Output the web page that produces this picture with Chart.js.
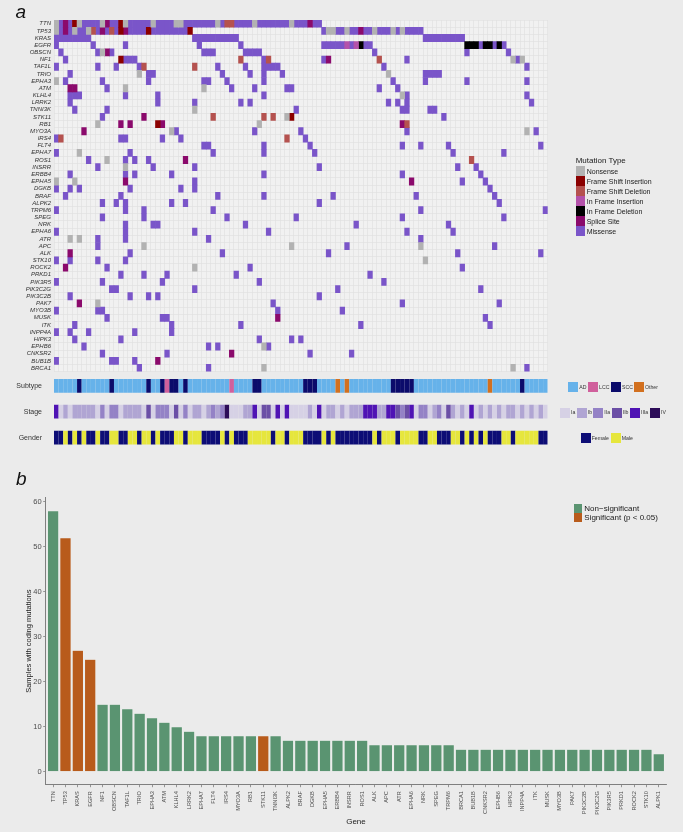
<!DOCTYPE html>
<html>
<head>
<meta charset="utf-8">
<script src="https://cdn.jsdelivr.net/npm/chart.js@4.4.1/dist/chart.umd.min.js"></script>
<style>
html,body{margin:0;padding:0;background:#ebebeb;}
body{width:683px;height:832px;position:relative;overflow:hidden;font-family:"Liberation Sans",Arial,Helvetica,sans-serif;}
canvas{position:absolute;left:0;}
.t{position:absolute;white-space:nowrap;color:#1a1a1a;}
.sq{position:absolute;}
</style>
</head>
<body>
<canvas id="onco" width="683" height="380" style="top:0px;width:683px;height:380px"></canvas>
<canvas id="tracks" width="683" height="100" style="top:360px;width:683px;height:100px"></canvas>
<canvas id="bars" width="683" height="372" style="top:460px;width:683px;height:372px"></canvas>
<div id="overlay"></div>
<script>
// ---------------- DATA ----------------
const genes = ['TTN','TP53','KRAS','EGFR','OBSCN','NF1','TAF1L','TRIO','EPHA3','ATM','KLHL4','LRRK2','TNNI3K','STK11','RB1','MYO3A','IRS4','FLT4','EPHA7','ROS1','INSRR','ERBB4','EPHA5','DGKB','BRAF','ALPK2','TRPM6','SPEG','NRK','EPHA6','ATR','APC','ALK','STK10','ROCK2','PRKD1','PIK3R5','PIK3C2G','PIK3C2B','PAK7','MYO3B','MUSK','ITK','INPP4A','HIPK3','EPHB6','CNKSR2','BUB1B','BRCA1'];
const sampleCount = 107;
// per gene: "col[-col]Type" ; N nonsense, I FS ins, D FS del, i IF ins, d IF del, S splice, M missense
const mutationRows = [
 "0N 1M 2S 3M 4I 5N 6-9M 10N 11S 12-13M 14I 15N 16-20M 21N 22-25M 26-27N 28-34M 35N 36M 37-38D 39-42M 43N 44-50M 51N 52-54M 55S 56-57M",
 "0N 1M 2S 3M 4N 5-6M 7N 8D 9M 10S 11M 12D 13M 14I 15S 16-19M 20I 21-28M 29I 58M 59-60N 61-62M 63N 64-65M 66S 67-68M 69N 70-72M 73N 74M 75N 76-79M",
 "0-7M 30-39M 80-88M",
 "0M 8M 15M 31M 40M 58-62M 63i 64M 65i 66d 67-68M 89-91d 92M 93-94d 95M 96d 97M",
 "1M 9M 10N 11S 12M 32-34M 41-44M 69M 89M 98M",
 "2M 14I 15-17M 40D 45M 46D 58M 59S 70D 76M 99N 100M 101N",
 "0M 9M 13M 18M 19D 30D 35M 41M 45-48M 71M 102M",
 "3M 18N 20-21M 36M 42M 45M 49M 72N 80-83M",
 "0N 2M 10M 20M 32-33M 37M 45M 73M 80M 89M 102M",
 "3-4S 11M 15N 32N 38M 43M 50-51M 70M 74M",
 "3-5M 15M 22M 45M 75N 76M 102M",
 "3M 22M 30M 40M 42M 72M 74M 76M 103M",
 "4M 11M 30N 52M 75-76M 81-82M",
 "10M 19S 34D 45D 47D 50N 51I 84M",
 "9N 14S 16S 22I 23S 44N 75S 76D",
 "6S 25N 26M 43M 53M 76M 102N 104M",
 "0M 1D 14-15M 23M 27M 50D 54M",
 "32-33M 45M 55M 75M 79M 85M 105M",
 "0M 5N 16M 34M 45M 56M 86M 97M",
 "7M 11N 15M 17M 20M 28S 90D",
 "9M 15N 21M 30M 57M 87M 91M",
 "3M 15M 17M 25M 45M 75M 92M",
 "0N 4N 15S 30M 77S 88M 93M",
 "0M 3M 5M 16M 27M 30M 94M",
 "2M 14M 35M 45M 60M 78M 95M",
 "10M 13M 15M 25M 28M 57M 96M",
 "0M 15M 19M 34M 79M 106M",
 "10M 19M 37M 52M 75M 97M",
 "15M 21-22M 41M 65M 85M",
 "0M 15M 30M 46M 76M 86M",
 "3N 5N 9M 15M 33M 79M",
 "9M 19N 51N 63M 79N 95M",
 "3S 16M 36M 59M 87M 105M",
 "0M 3M 9M 15M 80N",
 "2S 11M 30N 42M 88M",
 "14M 19M 24M 39M 68M",
 "0M 10M 23M 44M 71M",
 "12-13M 30M 61M 92M",
 "3M 16M 20M 22M 57M",
 "5S 9N 47M 75M 96M",
 "0M 9-10M 48M 62M",
 "11M 23-24M 48S 93M",
 "4M 25M 40M 66M 94M",
 "0M 3M 7M 17M 25M",
 "4M 14M 44M 51M 53M",
 "6M 33M 35M 45N 46M",
 "10M 24M 38S 55M 64M",
 "0M 12-13M 17M 22S",
 "18M 33M 45N 99N 102M"
];
const mutationTypeNames = ['Nonsense','Frame Shift Insertion','Frame Shift Deletion','In Frame Insertion','In Frame Deletion','Splice Site','Missense'];
const mutationTypeCodes = ['N','I','D','i','d','S','M'];
const mutationTypeColors = ['#b2b2b2','#8b0000','#b5524f','#b452aa','#000000','#8b0a6c','#7a55c9'];

const trackNames = ['Subtype','Stage','Gender'];
const subtypeRow = "AAAAASAAAA"+"AASAAAAAAA"+"SAASLSSASA"+"AAAAAAAALA"+"AAASSAAAAA"+"AAAASSSAAA"+"AOAOAAAAAA"+"AAASSSSSAA"+"AAAAAAAAAA"+"AAAAOAAAAA"+"ASAAAAA";
const stageRow   = "5121222221"+"3133122221"+"4133314131"+"2212323611"+"1225144151"+"5111121512"+"2121222555"+"2255434513"+"3123142121"+"5121212122"+"1212121";
const genderRow  = "FFMFMFMFFM"+"FFMMFFMMFM"+"MFMFFFMMFM"+"MMFFFFMFMF"+"FFMMMMMFMM"+"FMMMFFFFMF"+"MFFFFFFFFM"+"FMMMFMMMMF"+"FMMFFFMMFM"+"FMFMFFFMMF"+"MMMMMFF";
const subtypeCodes = ['A','L','S','O'];
const subtypeNames = ['AD','LCC','SCC','Other'];
const subtypeColors = ['#66b2ea','#d0609c','#0b0b6b','#d2701f'];
const stageCodes = ['1','2','3','4','5','6'];
const stageNames = ['Ia','Ib','IIa','IIb','IIIa','IV'];
const stageColors = ['#d6d1e5','#b0a5d3','#9482c6','#6b4fa6','#4f13b4','#2c0c58'];
const genderCodes = ['F','M'];
const genderNames = ['Female','Male'];
const genderColors = ['#0d0d76','#e6e63d'];

const barGenes = ['TTN','TP53','KRAS','EGFR','NF1','OBSCN','TAF1L','TRIO','EPHA3','ATM','KLHL4','LRRK2','EPHA7','FLT4','IRS4','MYO3A','RB1','STK11','TNNI3K','ALPK2','BRAF','DGKB','EPHA5','ERBB4','INSRR','ROS1','ALK','APC','ATR','EPHA6','NRK','SPEG','TRPM6','BRCA1','BUB1B','CNKSR2','EPHB6','HIPK3','INPP4A','ITK','MUSK','MYO3B','PAK7','PIK3C2B','PIK3C2G','PIK3R5','PRKD1','ROCK2','STK10','ALPK1'];
const barCounts = [58,52,27,25,15,15,14,13,12,11,10,9,8,8,8,8,8,8,8,7,7,7,7,7,7,7,6,6,6,6,6,6,6,5,5,5,5,5,5,5,5,5,5,5,5,5,5,5,5,4];
const barSignificant = [0,1,1,1,0,0,0,0,0,0,0,0,0,0,0,0,0,1,0,0,0,0,0,0,0,0,0,0,0,0,0,0,0,0,0,0,0,0,0,0,0,0,0,0,0,0,0,0,0,0];
const barTicks = [0,10,20,30,40,50,60];
const barLegend = ['Non\u2212significant','Significant (p < 0.05)'];
const barColors = ['#5a9471','#b85b1b'];

// ---------------- HELPERS ----------------
Chart.defaults.font.family = '"Liberation Sans", Arial, Helvetica, sans-serif';
const areaBg = {id:'areaBg', beforeDraw(chart, args, opts){ if(!opts || !opts.color) return; const a=chart.chartArea, ctx=chart.ctx; ctx.save(); ctx.fillStyle=opts.color; ctx.fillRect(a.left,a.top,a.right-a.left,a.bottom-a.top); ctx.restore(); }};
function parseRow(spec){
  const out=[];
  spec.split(/\s+/).filter(Boolean).forEach(tok=>{
    const m=tok.match(/^(\d+)(?:-(\d+))?([A-Za-z])$/);
    if(!m) return;
    const a=+m[1], b=m[2]?+m[2]:a;
    for(let c=a;c<=b;c++) out.push([c,m[3]]);
  });
  return out;
}
const colTicks=[]; for(let i=0;i<=sampleCount;i++) colTicks.push({value:i});

// ---------------- ONCOPRINT ----------------
const GRID_L=54, GRID_R=547.7, GRID_T=20.1, GRID_B=371.6;
const mutDatasets = mutationTypeCodes.map((code,k)=>{
  const data=[];
  mutationRows.forEach((spec,r)=>{ parseRow(spec).forEach(([c,t])=>{ if(t===code) data.push({x:[c,c+1], y:genes[r]}); }); });
  return {label:mutationTypeNames[k], data, backgroundColor:mutationTypeColors[k], borderWidth:0, grouped:false, barPercentage:1, categoryPercentage:1};
});
new Chart(document.getElementById('onco'), {
  type:'bar',
  data:{labels:genes, datasets:mutDatasets},
  plugins:[areaBg],
  options:{
    indexAxis:'y', responsive:false, animation:false, devicePixelRatio:1,
    layout:{padding:{left:0, right:683-GRID_R, top:GRID_T, bottom:380-GRID_B}},
    plugins:{legend:{display:false}, tooltip:{enabled:false}, areaBg:{color:'#f1f1f1'}},
    scales:{
      x:{type:'linear', min:0, max:sampleCount, offset:false, z:1,
         afterBuildTicks:s=>{s.ticks=colTicks.slice();},
         afterFit:s=>{s.height=0;},
         ticks:{display:false},
         grid:{color:'#dfdfdf', lineWidth:0.6, drawTicks:false, offset:false},
         border:{display:false}},
      y:{type:'category', labels:genes, offset:true, z:1,
         afterFit:s=>{s.width=GRID_L;},
         ticks:{autoSkip:false, padding:3, color:'#333333', font:{size:6, style:'italic'}},
         grid:{color:'#dfdfdf', lineWidth:0.6, drawTicks:false, offset:true},
         border:{display:false}}
    }
  }
});

// ---------------- ANNOTATION TRACKS ----------------
const trackData=[], trackCols=[];
function addTrack(row, codes, colors, name){
  for(let c=0;c<sampleCount;c++){ const k=codes.indexOf(row[c]); trackData.push({x:[c,c+1], y:name}); trackCols.push(colors[k]); }
}
addTrack(subtypeRow, subtypeCodes, subtypeColors, trackNames[0]);
addTrack(stageRow, stageCodes, stageColors, trackNames[1]);
addTrack(genderRow, genderCodes, genderColors, trackNames[2]);
const TR_T=372.85-360, TR_B=450.55-360;
new Chart(document.getElementById('tracks'), {
  type:'bar',
  data:{labels:trackNames, datasets:[{data:trackData, backgroundColor:trackCols, borderWidth:0, barPercentage:0.53, categoryPercentage:1}]},
  options:{
    indexAxis:'y', responsive:false, animation:false, devicePixelRatio:1,
    layout:{padding:{left:0, right:683-GRID_R, top:TR_T, bottom:100-TR_B}},
    plugins:{legend:{display:false}, tooltip:{enabled:false}},
    scales:{
      x:{type:'linear', min:0, max:sampleCount, display:true, afterFit:s=>{s.height=0;}, ticks:{display:false}, grid:{display:false}, border:{display:false}},
      y:{type:'category', labels:trackNames, offset:true, afterFit:s=>{s.width=GRID_L;},
         ticks:{padding:4, color:'#333333', font:{size:7}}, grid:{display:false}, border:{display:false}}
    }
  }
});

// ---------------- BAR CHART ----------------
const B_TOP=460, B_L=45.7, B_R=666.2, B_T=497.6, B_B=784.7;
new Chart(document.getElementById('bars'), {
  type:'bar',
  data:{datasets:[{data:barCounts.map((v,i)=>({x:i,y:v})), backgroundColor:barSignificant.map(s=>barColors[s]),
        borderColor:'rgba(240,245,240,0.7)', borderWidth:0.6, barPercentage:0.93, categoryPercentage:1}]},
  options:{
    responsive:false, animation:false, devicePixelRatio:1,
    layout:{padding:{left:0, right:683-B_R, top:B_T-B_TOP, bottom:0}},
    plugins:{legend:{display:false}, tooltip:{enabled:false}},
    scales:{
      x:{type:'linear', min:-0.6, max:barGenes.length-0.4, offset:false,
         afterBuildTicks:s=>{s.ticks=barGenes.map((g,i)=>({value:i}));},
         afterFit:s=>{s.height=372-(B_B-B_TOP);},
         ticks:{autoSkip:false, minRotation:90, maxRotation:90, padding:4, color:'#4d4d4d', font:{size:5.6}, callback:v=>barGenes[v]},
         grid:{drawOnChartArea:false, drawTicks:true, tickLength:2.5, color:'#7f7f7f', lineWidth:0.8, offset:false},
         border:{display:true, color:'#7f7f7f', width:1},
         title:{display:true, text:'Gene', color:'#1a1a1a', font:{size:8}, padding:{top:0,bottom:5.5}}},
      y:{type:'linear', min:-2.9, max:60.9,
         afterBuildTicks:s=>{s.ticks=barTicks.map(v=>({value:v}));},
         afterFit:s=>{s.width=B_L;},
         ticks:{padding:1.5, color:'#4d4d4d', font:{size:7.5}},
         grid:{drawOnChartArea:false, drawTicks:true, tickLength:2.5, color:'#7f7f7f', lineWidth:0.8},
         border:{display:true, color:'#7f7f7f', width:1},
         title:{display:true, text:'Samples with coding mutations', color:'#1a1a1a', font:{size:7.5}, padding:{top:24,bottom:0}}}
    }
  }
});

// ---------------- LEGENDS / LABELS ----------------
const ov=document.getElementById('overlay');
function txt(s,x,yc,size,extra){ const d=document.createElement('div'); d.className='t'; d.textContent=s; d.style.left=x+'px'; d.style.top=(yc-0.4865*size)+'px'; d.style.fontSize=size+'px'; d.style.lineHeight=size+'px'; if(extra) Object.assign(d.style,extra); ov.appendChild(d); }
function sq(x,y,w,h,c){ const d=document.createElement('div'); d.className='sq'; Object.assign(d.style,{left:x+'px',top:y+'px',width:w+'px',height:h+'px',background:c}); ov.appendChild(d); }
txt('a',15.5,11,19,{fontStyle:'italic',color:'#111'});
txt('b',16,478.5,19,{fontStyle:'italic',color:'#111'});
txt('Mutation Type',575.7,160.5,8);
mutationTypeNames.forEach((n,k)=>{ sq(575.7,166+10*k,9.3,10,mutationTypeColors[k]); txt(n,586.7,171+10*k,7); });
const stX=[568.3,588,611,634]; subtypeNames.forEach((n,k)=>{ sq(stX[k],382.3,10,10,subtypeColors[k]); txt(n,stX[k]+11,387.3,5.2,{color:'#333'}); });
const sgX=[560,576.7,593.3,611.7,630,650]; stageNames.forEach((n,k)=>{ sq(sgX[k],407.7,10,10,stageColors[k]); txt(n,sgX[k]+11,412.7,5.2,{color:'#333'}); });
const gX=[580.7,610.7]; genderNames.forEach((n,k)=>{ sq(gX[k],433.3,10,10,genderColors[k]); txt(n,gX[k]+11,438.3,5.2,{color:'#333'}); });
barLegend.forEach((n,k)=>{ sq(574.3,504.3+9*k,8,8.6,barColors[k]); txt(n,584.3,508.5+9.2*k,8); });
</script>
</body>
</html>
